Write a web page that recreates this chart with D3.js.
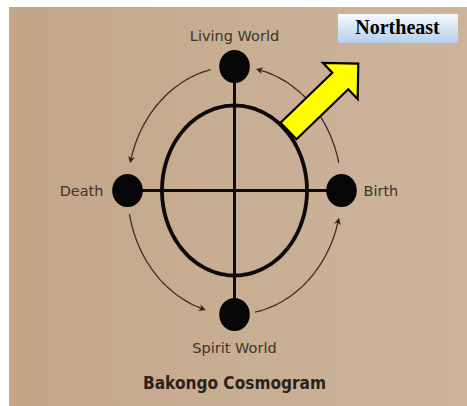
<!DOCTYPE html>
<html lang="en">
<head>
  <meta charset="UTF-8">
  <title>Bakongo Cosmogram</title>
  <script src="https://d3js.org/d3.v7.min.js"></script>
  <style>
    body { margin: 0; background: #fff; }
    svg { display: block; }
  </style>
</head>
<body>
<div id="chart"></div>
<script>
// Nodes of the cosmogram (angle in degrees, 0 = right, 90 = down)
const nodeNames = ["Living World", "Birth", "Spirit World", "Death"];
const nodeAngles = [-90, 0, 90, 180];

// Thin cycle arcs on the outer orbit: start angle -> end angle (arrow at the end)
const arcStart = [-13, -103, 169, 79];
const arcEnd = [-77, -166, 107, 14];

// Label placement for each node
const labelAnchor = ["middle", "start", "middle", "end"];
const labelDx = [0, 22, 0, -24];
const labelDy = [-31, 0, 33, 0];

const title = "Bakongo Cosmogram";
const badge = "Northeast";

const W = 467, H = 406;
const cx = 234.5, cy = 190.5;

const svg = d3.select("#chart").append("svg")
  .attr("width", W).attr("height", H);

const defs = svg.append("defs");
const bg = defs.append("linearGradient").attr("id", "paper")
  .attr("x1", 0).attr("x2", 1).attr("y1", 0).attr("y2", 0);
bg.append("stop").attr("offset", 0).attr("stop-color", "#c3a587");
bg.append("stop").attr("offset", 0.5).attr("stop-color", "#c8ae93");
bg.append("stop").attr("offset", 1).attr("stop-color", "#ccb49b");

const box = defs.append("linearGradient").attr("id", "badge")
  .attr("x1", 0).attr("x2", 0).attr("y1", 0).attr("y2", 1);
box.append("stop").attr("offset", 0).attr("stop-color", "#f6f9fd");
box.append("stop").attr("offset", 1).attr("stop-color", "#b4cfea");

defs.append("marker").attr("id", "tip")
  .attr("viewBox", "0 0 10 10").attr("refX", 6).attr("refY", 5)
  .attr("markerWidth", 7).attr("markerHeight", 7)
  .attr("markerUnits", "userSpaceOnUse")
  .attr("orient", "auto")
  .append("path").attr("d", "M0,0 L10,5 L0,10 L3,5 Z").attr("fill", "#2e241c");

// photo background
svg.append("rect").attr("x", 9).attr("y", 7).attr("width", W - 9).attr("height", H - 7)
  .attr("fill", "url(#paper)");

// scales: unit circle -> pixels
const xo = d3.scaleLinear().domain([-1, 1]).range([cx - 107, cx + 107]);
const yo = d3.scaleLinear().domain([-1, 1]).range([cy - 124, cy + 124]);
const xi = d3.scaleLinear().domain([-1, 1]).range([cx - 72.5, cx + 72.5]);
const yi = d3.scaleLinear().domain([-1, 1]).range([cy - 85, cy + 85]);
const rad = d => d * Math.PI / 180;

const g = svg.append("g");

// outer cycle arcs
const arcLine = d3.line().x(t => xo(Math.cos(rad(t)))).y(t => yo(Math.sin(rad(t)))).curve(d3.curveBasis);
arcStart.forEach((s, i) => {
  const pts = d3.range(0, 41).map(k => s + (arcEnd[i] - s) * k / 40);
  g.append("path").attr("d", arcLine(pts))
    .attr("fill", "none").attr("stroke", "#3a2e25").attr("stroke-width", 1.3)
    .attr("marker-end", "url(#tip)");
});

// inner ring
const ring = d3.range(0, 361, 3);
g.append("path")
  .attr("d", d3.line().x(t => xi(Math.cos(rad(t)))).y(t => yi(Math.sin(rad(t)))).curve(d3.curveCardinalClosed)(ring.slice(0, -1)))
  .attr("fill", "none").attr("stroke", "#0d0b0a").attr("stroke-width", 3.8);

// cross
g.append("line").attr("x1", xo(-1)).attr("x2", xo(1)).attr("y1", cy).attr("y2", cy)
  .attr("stroke", "#0d0b0a").attr("stroke-width", 3);
g.append("line").attr("x1", cx).attr("x2", cx).attr("y1", yo(-1)).attr("y2", yo(1))
  .attr("stroke", "#0d0b0a").attr("stroke-width", 3);

// node dots + labels
nodeAngles.forEach((a, i) => {
  const px = xo(Math.cos(rad(a))), py = yo(Math.sin(rad(a)));
  g.append("ellipse").attr("cx", px).attr("cy", py).attr("rx", 15.3).attr("ry", 16.5)
    .attr("fill", "#070606");
  g.append("text").attr("x", px + labelDx[i]).attr("y", py + labelDy[i])
    .attr("text-anchor", labelAnchor[i]).attr("dominant-baseline", "central")
    .attr("font-family", "'DejaVu Sans', sans-serif").attr("font-size", 14.5)
    .attr("fill", "#3d342c")
    .text(nodeNames[i]);
});

// title
svg.append("text").attr("x", cx).attr("y", 389)
  .attr("text-anchor", "middle")
  .attr("font-family", "'DejaVu Sans', sans-serif").attr("font-weight", "bold").attr("font-size", 18)
  .attr("textLength", 183).attr("lengthAdjust", "spacingAndGlyphs")
  .attr("fill", "#2a221c")
  .text(title);

// yellow direction arrow (local frame along the shaft, rotated to point northeast)
const arrowShape = [[0, -11.5], [72, -11.5], [72, -25], [97, 0], [72, 25], [72, 11.5], [0, 11.5]];
const ang = rad(-44), ox = 288.5, oy = 131;
const arrowPts = arrowShape.map(([u, v]) => [ox + u * Math.cos(ang) - v * Math.sin(ang), oy + u * Math.sin(ang) + v * Math.cos(ang)]);
svg.append("path").attr("d", d3.line()(arrowPts) + "Z")
  .attr("fill", "#ffff00").attr("stroke", "#000").attr("stroke-width", 2.2)
  .attr("stroke-linejoin", "miter");

// badge
svg.append("rect").attr("x", 338).attr("y", 14).attr("width", 120).attr("height", 29)
  .attr("fill", "url(#badge)");
svg.append("text").attr("x", 397.5).attr("y", 34)
  .attr("text-anchor", "middle")
  .attr("font-family", "'Liberation Serif', 'Times New Roman', serif").attr("font-weight", "bold").attr("font-size", 20)
  .attr("fill", "#000")
  .text(badge);
</script>
</body>
</html>
